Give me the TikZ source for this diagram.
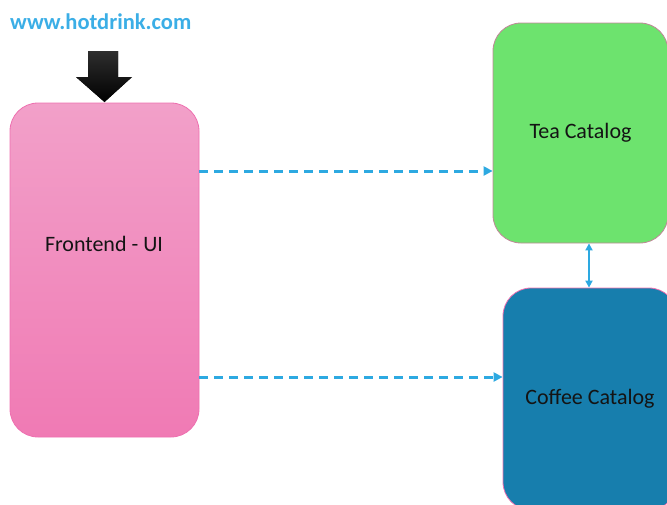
\documentclass[tikz,border=0pt]{standalone}
\usepackage{fontspec}
\setmainfont{Carlito}
\usetikzlibrary{arrows.meta}
\definecolor{linkblue}{HTML}{3BAEE6}
\definecolor{flowblue}{HTML}{2DA9E1}
\definecolor{teagreen}{HTML}{6DE36E}
\definecolor{coffeeblue}{HTML}{177EAD}
\definecolor{pinktop}{HTML}{F2A0C9}
\definecolor{pinkbot}{HTML}{F07AB4}
\definecolor{pinkedge}{HTML}{EE70B0}
\definecolor{teaedge}{HTML}{C08898}
\tikzset{
  box/.style={rounded corners=28pt, inner sep=0pt, line width=0.8pt},
  boxtext/.style={font=\fontsize{22}{26}\selectfont, text=black!92},
  flow/.style={flowblue, line width=3pt, dash pattern=on 9pt off 6pt,
    -{Triangle[length=9pt,width=9pt]}},
  link/.style={flowblue, line width=2pt,
    {Triangle[length=7pt,width=7pt]}-{Triangle[length=7pt,width=7pt]}},
}
\begin{document}
\begin{tikzpicture}[x=1pt,y=-1pt]
\useasboundingbox (0,0) rectangle (667,504);
\clip (0,0) rectangle (667,504);

% address of the site
\node[anchor=west, font=\bfseries\fontsize{22.5}{26}\selectfont, text=linkblue, inner sep=0pt]
  (url) at (10,22) {www.hotdrink.com};

% the three services
\node[box, draw=pinkedge, top color=pinktop, bottom color=pinkbot,
  minimum width=189pt, minimum height=334pt] (fe) at (104.5,270) {};
\node[boxtext] (fetext) at (104,244) {Frontend - UI};

\node[box, draw=teaedge, fill=teagreen, minimum width=175pt, minimum height=220pt,
  boxtext] (tea) at (580.5,133) {Tea Catalog};

\node[box, draw=pinkedge, fill=coffeeblue, minimum width=174pt, minimum height=222pt,
  boxtext] (cof) at (590,399) {Coffee Catalog};

% incoming request arrow
\fill[top color=black!82, bottom color=black]
  (88,51) -- (118,51) -- (118,77) -- (132,77) -- (fe.north |- 0,102)
  -- (76,77) -- (88,77) -- cycle;

% calls between the services
\draw[flow] (fe.east |- 0,171) -- (tea.west |- 0,171);
\draw[flow] (fe.east |- 0,377) -- (cof.west |- 0,377);
\draw[link] (589,0 |- tea.south) -- (589,0 |- cof.north);
\end{tikzpicture}
\end{document}
